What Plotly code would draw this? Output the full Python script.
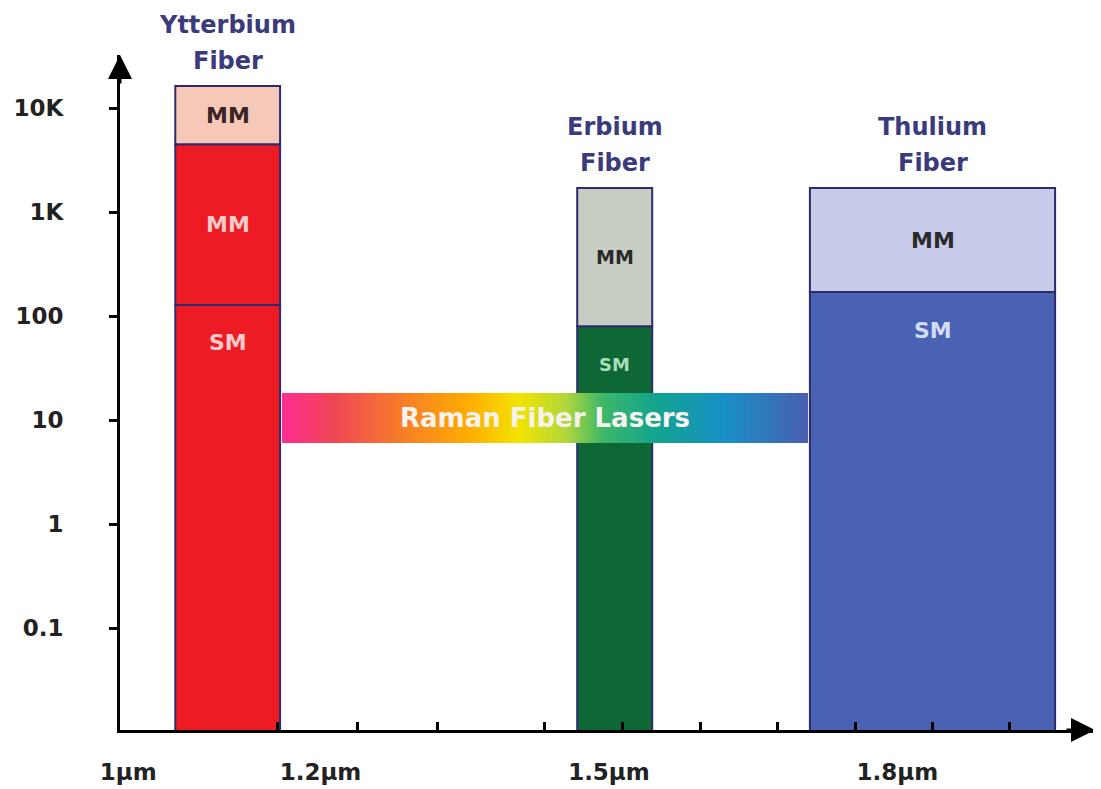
import numpy as np
import plotly.graph_objects as go

# wavelength in µm (x), output power on a log scale (y)
FIBER_NAMES = ["Ytterbium", "Erbium", "Thulium"]
FIBER_X0 = [1.049, 1.467, 1.709]
FIBER_X1 = [1.158, 1.545, 1.964]
FIBER_TOP = [16300, 1700, 1700]

# stacked segments, bottom to top
SEG_FIBER = [0, 0, 0, 1, 1, 2, 2]
SEG_LABEL = ["SM", "MM", "MM", "SM", "MM", "SM", "MM"]
SEG_LO = [0.01, 128, 4500, 0.01, 80, 0.01, 170]
SEG_HI = [128, 4500, 16300, 80, 1700, 170, 1700]

RAMAN_X = [1.160, 1.707]
RAMAN_Y = [6.0, 18.2]
RAMAN_LABEL = "Raman Fiber Lasers"

X_TICKS = [1.0, 1.2, 1.5, 1.8]
X_TICKTEXT = ["1µm", "1.2µm", "1.5µm", "1.8µm"]
X_MINOR = [1.155, 1.239, 1.322, 1.433, 1.514, 1.595, 1.675, 1.756, 1.836, 1.917]
Y_TICKS = [0.1, 1, 10, 100, 1000, 10000]
Y_TICKTEXT = ["0.1", "1", "10", "100", "1K", "10K"]

SEG_COLOR = ["#ED1C24", "#ED1C24", "#F6C8B8", "#0D6836", "#C8CDC3", "#4A62B4", "#C7CBE9"]
SEG_TEXT = ["#F8CACA", "#F8CACA", "#3A2424", "#A8DDB8", "#2A2A2A", "#D2DDF6", "#2A2A2A"]
SEG_SIZE = [22, 22, 22, 18, 19, 22, 22]
EDGE = "#2E2A6E"
TITLE_C = "#3A3A7C"
RAINBOW = [[0.0, "#FF2D90"], [0.09, "#F04458"], [0.22, "#F77A2A"], [0.36, "#FFB000"],
           [0.45, "#F2E400"], [0.54, "#B2D63C"], [0.61, "#3EB868"], [0.71, "#12A48E"],
           [0.84, "#1890C8"], [1.0, "#4A5FB0"]]
FONT = "DejaVu Sans, Liberation Sans, sans-serif"
XR = [0.9915, 2.0055]
YR = [np.log10(0.01045), np.log10(32400)]

fig = go.Figure()
for i, f in enumerate(SEG_FIBER):
    x0, x1 = FIBER_X0[f], FIBER_X1[f]
    fig.add_bar(x=[(x0 + x1) / 2], y=[SEG_HI[i] - SEG_LO[i]], base=[SEG_LO[i]],
                width=[x1 - x0], marker=dict(color=SEG_COLOR[i],
                                             line=dict(color=EDGE, width=2)),
                hoverinfo="skip")

# Raman band on an overlaid subplot so it sits above the bars
n = 240
fig.add_heatmap(x=np.linspace(RAMAN_X[0], RAMAN_X[1], n + 1), y=RAMAN_Y,
                z=[np.linspace(0, 1, n)], colorscale=RAINBOW, showscale=False,
                hoverinfo="skip", xaxis="x2", yaxis="y2")

ann = []
for i, f in enumerate(SEG_FIBER):
    xc = (FIBER_X0[f] + FIBER_X1[f]) / 2
    if SEG_LABEL[i] == "MM":
        yv, shift = (np.log10(SEG_LO[i]) + np.log10(SEG_HI[i])) / 2, 0
    else:
        yv, shift = np.log10(SEG_HI[i]), -38
    ann.append(dict(x=xc, y=yv, yshift=shift, text=f"<b>{SEG_LABEL[i]}</b>",
                    showarrow=False, font=dict(size=SEG_SIZE[i], color=SEG_TEXT[i])))
for f, name in enumerate(FIBER_NAMES):
    xc = (FIBER_X0[f] + FIBER_X1[f]) / 2
    for line, sh in [(name, 61), ("Fiber", 25)]:
        ann.append(dict(x=xc, y=np.log10(FIBER_TOP[f]), yshift=sh, text=f"<b>{line}</b>",
                        showarrow=False, font=dict(size=24, color=TITLE_C)))
ann.append(dict(x=sum(RAMAN_X) / 2, y=np.mean(np.log10(RAMAN_Y)),
                text=f"<b>{RAMAN_LABEL}</b>", showarrow=False,
                font=dict(size=26, color="#F6F2EE")))
# axis arrows
ann.append(dict(xref="paper", yref="paper", x=0, y=1, ax=0, ay=30, showarrow=True,
                arrowhead=2, arrowsize=1.6, arrowwidth=3, arrowcolor="black", text=""))
ann.append(dict(xref="paper", yref="paper", x=1, y=0, ax=-30, ay=0, showarrow=True,
                arrowhead=2, arrowsize=1.6, arrowwidth=3, arrowcolor="black", text=""))

# margins allow for the page's 8px body margin
fig.update_layout(
    width=1101, height=789, margin=dict(l=112, r=14, t=47, b=67),
    plot_bgcolor="white", paper_bgcolor="white", showlegend=False,
    barmode="overlay", font=dict(family=FONT, color="#222"), annotations=ann,
    xaxis=dict(range=XR, showgrid=False, zeroline=False, automargin=False,
               showline=True, linewidth=3, linecolor="black",
               tickvals=X_TICKS, ticktext=[f"<b>{t}</b>" for t in X_TICKTEXT],
               ticks="", ticklabelstandoff=19, tickfont=dict(size=23),
               minor=dict(tickmode="array", tickvals=X_MINOR, ticks="inside",
                          ticklen=8, tickwidth=3, tickcolor="black")),
    yaxis=dict(type="log", range=YR, automargin=False,
               showgrid=False, zeroline=False, showline=True, linewidth=3,
               linecolor="black", tickvals=Y_TICKS,
               ticktext=[f"<b>{t}</b>" for t in Y_TICKTEXT], ticks="outside",
               ticklen=8, tickwidth=3, tickcolor="black", ticklabelstandoff=41,
               tickfont=dict(size=23)),
    xaxis2=dict(range=XR, overlaying="x", visible=False),
    yaxis2=dict(type="log", range=YR, overlaying="y", visible=False),
)
fig.write_html("out.html")
